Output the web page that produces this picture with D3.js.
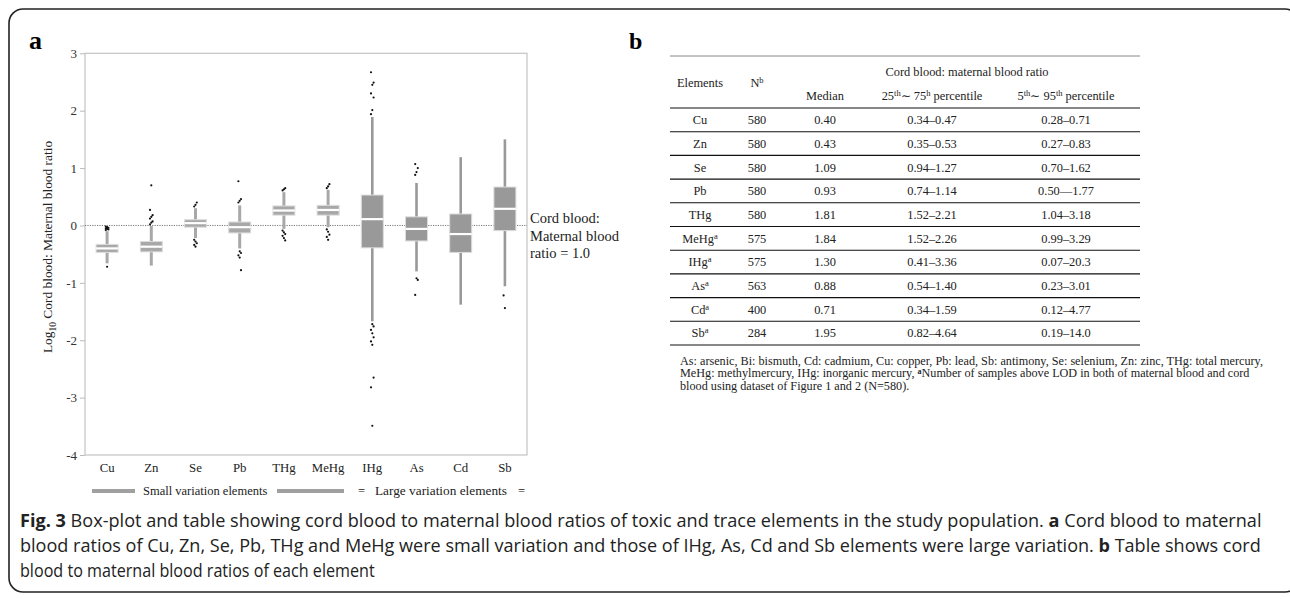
<!DOCTYPE html>
<html><head><meta charset="utf-8">
<script src="https://cdn.jsdelivr.net/npm/d3@7"></script>
<style>body{margin:0;background:#fff;}svg{display:block;}</style>
</head><body>
<svg id="c" width="1290" height="599"></svg>
<script>
// ---- data (log10 cord:maternal ratio) ----
const elements = ["Cu","Zn","Se","Pb","THg","MeHg","IHg","As","Cd","Sb"];
const groupOf  = ["small","small","small","small","small","small","large","large","large","large"];
const q1       = [-0.47,-0.46,-0.03,-0.13,0.18,0.18,-0.39,-0.27,-0.47,-0.09];
const medians  = [-0.40,-0.37,0.04,-0.03,0.26,0.27,0.11,-0.06,-0.15,0.29];
const q3       = [-0.33,-0.28,0.10,0.06,0.34,0.35,0.53,0.15,0.20,0.67];
const whiskLow = [-0.66,-0.70,-0.22,-0.40,-0.06,-0.03,-1.67,-0.80,-1.38,-1.06];
const whiskHigh= [-0.10,-0.01,0.30,0.35,0.58,0.62,1.89,0.74,1.19,1.50];
const outliers = [
  [-0.02,-0.03,-0.04,-0.05,-0.06,-0.07,-0.08,-0.72],
  [0.02,0.05,0.07,0.12,0.15,0.18,0.27,0.70],
  [0.33,0.36,0.40,-0.25,-0.28,-0.31,-0.34,-0.37],
  [0.40,0.43,0.46,0.77,-0.45,-0.48,-0.52,-0.56,-0.78],
  [0.61,0.63,0.65,-0.09,-0.12,-0.15,-0.18,-0.22,-0.26],
  [0.65,0.68,0.72,-0.07,-0.11,-0.16,-0.20,-0.25],
  [1.94,2.01,2.23,2.30,2.45,2.49,2.67,-1.72,-1.76,-1.82,-1.88,-1.95,-2.02,-2.08,-2.65,-2.82,-3.49],
  [0.88,0.93,1.00,1.07,-0.92,-0.95,-1.21],
  [],
  [-1.22,-1.44]
];
const yTicks = [3,2,1,0,-1,-2,-3,-4];

// ---- table data ----
const tblElements = ["Cu","Zn","Se","Pb","THg","MeHg","IHg","As","Cd","Sb"];
const tblSup      = ["","","","","","a","a","a","a","a"];
const tblN        = ["580","580","580","580","580","575","575","563","400","284"];
const tblMedian   = ["0.40","0.43","1.09","0.93","1.81","1.84","1.30","0.88","0.71","1.95"];
const tblIQR      = ["0.34–0.47","0.35–0.53","0.94–1.27","0.74–1.14","1.52–2.21","1.52–2.26","0.41–3.36","0.54–1.40","0.34–1.59","0.82–4.64"];
const tblP5_95    = ["0.28–0.71","0.27–0.83","0.70–1.62","0.50—1.77","1.04–3.18","0.99–3.29","0.07–20.3","0.23–3.01","0.12–4.77","0.19–14.0"];
const footnote = [
  "As: arsenic, Bi: bismuth, Cd: cadmium, Cu: copper, Pb: lead, Sb: antimony, Se: selenium, Zn: zinc, THg: total mercury,",
  "MeHg: methylmercury, IHg: inorganic mercury, |Number of samples above LOD in both of maternal blood and cord",
  "blood using dataset of Figure 1 and 2 (N=580)."
];

const svg = d3.select("#c");
const serif = "'Liberation Serif','Times New Roman',serif";

// outer frame
svg.append("rect").attr("x",9).attr("y",9).attr("width",1290).attr("height",583)
  .attr("rx",14).attr("fill","none").attr("stroke","#222").attr("stroke-width",1.6);

// ---- panel a ----
const L=85,R=527,T=53.3,B=455;
const x = d3.scaleBand().domain(elements).range([L,R]).paddingInner(0).paddingOuter(0);
const y = d3.scaleLinear().domain([-4,3]).range([B,T]);
const bw = 22;

svg.append("text").attr("x",29).attr("y",49).attr("font-family",serif).attr("font-weight","bold")
  .attr("font-size",26).text("a");

svg.append("rect").attr("x",L).attr("y",T).attr("width",R-L).attr("height",B-T)
  .attr("fill","none").attr("stroke","#c4c4c4").attr("stroke-width",1.2);

const yAxis = svg.append("g").attr("transform",`translate(${L},0)`)
  .call(d3.axisLeft(y).tickValues(yTicks).tickSize(5).tickPadding(3).tickFormat(d3.format("d")));
yAxis.select(".domain").remove();
yAxis.selectAll(".tick line").attr("stroke","#bbb");
yAxis.selectAll(".tick text").attr("font-family",serif).attr("font-size",13).attr("fill","#333")
  .text(d=> d<0 ? "-"+Math.abs(d) : d);

const xAxis = svg.append("g").attr("transform",`translate(0,${B})`)
  .call(d3.axisBottom(x).tickSize(0).tickPadding(8));
xAxis.select(".domain").remove();
xAxis.selectAll(".tick text").attr("font-family",serif).attr("font-size",12.8).attr("fill","#222");

// y label
const yl = svg.append("text").attr("transform",`translate(52,247) rotate(-90)`)
  .attr("text-anchor","middle").attr("font-family",serif).attr("font-size",13.4).attr("fill","#222");
yl.append("tspan").text("Log");
yl.append("tspan").attr("font-size",9.5).attr("dy",4).text("10");
yl.append("tspan").attr("dy",-4).text(" Cord blood: Maternal blood ratio");

// reference line at 0
svg.append("line").attr("x1",L).attr("x2",R).attr("y1",y(0)).attr("y2",y(0))
  .attr("stroke","#555").attr("stroke-width",0.8).attr("stroke-dasharray","1.2,1.2");

const boxes = svg.append("g");
elements.forEach((e,i)=>{
  const cx = x(e)+x.bandwidth()/2;
  const small = groupOf[i]==="small";
  const col = small ? "#a8a8a8" : "#999999";
  boxes.append("line").attr("x1",cx).attr("x2",cx).attr("y1",y(whiskLow[i])).attr("y2",y(whiskHigh[i]))
    .attr("stroke",col).attr("stroke-width",small?3:2.6);
  boxes.append("rect").attr("x",cx-bw/2).attr("width",bw).attr("y",y(q3[i])).attr("height",y(q1[i])-y(q3[i]))
    .attr("fill",col).attr("stroke","#dcdcdc").attr("stroke-width",1);
  boxes.append("line").attr("x1",cx-bw/2).attr("x2",cx+bw/2).attr("y1",y(medians[i])).attr("y2",y(medians[i]))
    .attr("stroke","#fff").attr("stroke-width",2.2);
  outliers[i].forEach((v,j)=>{
    boxes.append("circle").attr("cx",cx+((j%3)-1)*1.3).attr("cy",y(v)).attr("r",1.1).attr("fill","#111");
  });
});

// annotation
const ann = ["Cord blood:","Maternal blood","ratio = 1.0"];
svg.append("g").selectAll("text").data(ann).join("text")
  .attr("x",530).attr("y",(d,i)=>223+i*17.5).attr("font-family",serif).attr("font-size",14.5)
  .attr("fill","#222").text(d=>d);

// legend
const lg = svg.append("g").attr("font-family",serif).attr("font-size",12.5).attr("fill","#222");
lg.append("line").attr("x1",92).attr("x2",135).attr("y1",491).attr("y2",491).attr("stroke","#a0a0a0").attr("stroke-width",4);
lg.append("text").attr("x",143).attr("y",495).text("Small variation elements");
lg.append("line").attr("x1",277).attr("x2",344).attr("y1",491).attr("y2",491).attr("stroke","#a0a0a0").attr("stroke-width",4);
lg.append("text").attr("x",358).attr("y",495).text("=");
lg.append("text").attr("x",375).attr("y",495).attr("font-size",13.3).text("Large variation elements");
lg.append("text").attr("x",518).attr("y",495).text("=");

// ---- panel b (table) ----
svg.append("text").attr("x",629).attr("y",49).attr("font-family",serif).attr("font-weight","bold")
  .attr("font-size",24).text("b");
const TL=670,TR=1140,rowTop=108,rowH=23.7;
const colX = [700,757,825,932,1066];
const tb = svg.append("g").attr("font-family",serif).attr("font-size",12.4).attr("fill","#222").attr("text-anchor","middle");
tb.append("line").attr("x1",TL).attr("x2",TR).attr("y1",56).attr("y2",56).attr("stroke","#888").attr("stroke-width",1);
tb.append("text").attr("x",967).attr("y",76).text("Cord blood: maternal blood ratio");
tb.append("text").attr("x",colX[0]).attr("y",87).text("Elements");
const nh = tb.append("text").attr("x",colX[1]).attr("y",87);
nh.append("tspan").text("N"); nh.append("tspan").attr("font-size",8.5).attr("dy",-4).text("b");
tb.append("text").attr("x",colX[2]).attr("y",100).text("Median");
const h3 = tb.append("text").attr("x",colX[3]).attr("y",100);
h3.append("tspan").text("25"); h3.append("tspan").attr("font-size",8.5).attr("dy",-4).text("th");
h3.append("tspan").attr("dy",4).text("∼  75"); h3.append("tspan").attr("font-size",8.5).attr("dy",-4).text("h");
h3.append("tspan").attr("dy",4).text(" percentile");
const h4 = tb.append("text").attr("x",colX[4]).attr("y",100);
h4.append("tspan").text("5"); h4.append("tspan").attr("font-size",8.5).attr("dy",-4).text("th");
h4.append("tspan").attr("dy",4).text("∼  95"); h4.append("tspan").attr("font-size",8.5).attr("dy",-4).text("th");
h4.append("tspan").attr("dy",4).text(" percentile");

const rows = d3.range(tblElements.length);
tb.selectAll("line.rl").data([-1].concat(rows)).join("line").attr("class","rl")
  .attr("x1",TL).attr("x2",TR).attr("y1",d=>rowTop+(d+1)*rowH).attr("y2",d=>rowTop+(d+1)*rowH)
  .attr("stroke","#111").attr("stroke-width",1.1);
rows.forEach(i=>{
  const by = rowTop + i*rowH + rowH/2 + 4.3;
  const t0 = tb.append("text").attr("x",colX[0]).attr("y",by);
  t0.append("tspan").text(tblElements[i]);
  if(tblSup[i]) t0.append("tspan").attr("font-size",8.5).attr("dy",-4).text(tblSup[i]);
  tb.append("text").attr("x",colX[1]).attr("y",by).text(tblN[i]);
  tb.append("text").attr("x",colX[2]).attr("y",by).text(tblMedian[i]);
  tb.append("text").attr("x",colX[3]).attr("y",by).text(tblIQR[i]);
  tb.append("text").attr("x",colX[4]).attr("y",by).text(tblP5_95[i]);
});

const fn = svg.append("g").attr("font-family",serif).attr("font-size",12.2).attr("fill","#222");
footnote.forEach((line,i)=>{
  const t = fn.append("text").attr("x",680).attr("y",365+i*12.4);
  const parts = line.split("|");
  t.append("tspan").text(parts[0]);
  if(parts.length>1){
    t.append("tspan").attr("font-size",8).attr("dy",-3).attr("font-weight","bold").text("a");
    t.append("tspan").attr("dy",3).text(parts[1]);
  }
});

// ---- caption ----
const sans = "'Open Sans','Noto Sans',sans-serif";
const capLines = [
  [["Fig. 3",true],[" Box-plot and table showing cord blood to maternal blood ratios of toxic and trace elements in the study population. ",false],["a",true],[" Cord blood to maternal",false]],
  [["blood ratios of Cu, Zn, Se, Pb, THg and MeHg were small variation and those of IHg, As, Cd and Sb elements were large variation. ",false],["b",true],[" Table shows cord",false]],
  [["blood to maternal blood ratios of each element",false]]
];
const capTarget = [1242,1242,355];   // line widths in the reference
capLines.forEach((parts,i)=>{
  const g = svg.append("g");
  const t = g.append("text").attr("x",0).attr("y",0).attr("font-family",sans)
    .attr("font-size",18.5).attr("fill","#222").style("white-space","pre");
  parts.forEach(p=>t.append("tspan").attr("font-weight",p[1]?"bold":"normal").text(p[0]));
  const w = t.node().getComputedTextLength();
  g.attr("transform",`translate(20,${527+i*25}) scale(${capTarget[i]/w},1)`);
});
</script>
</body></html>
